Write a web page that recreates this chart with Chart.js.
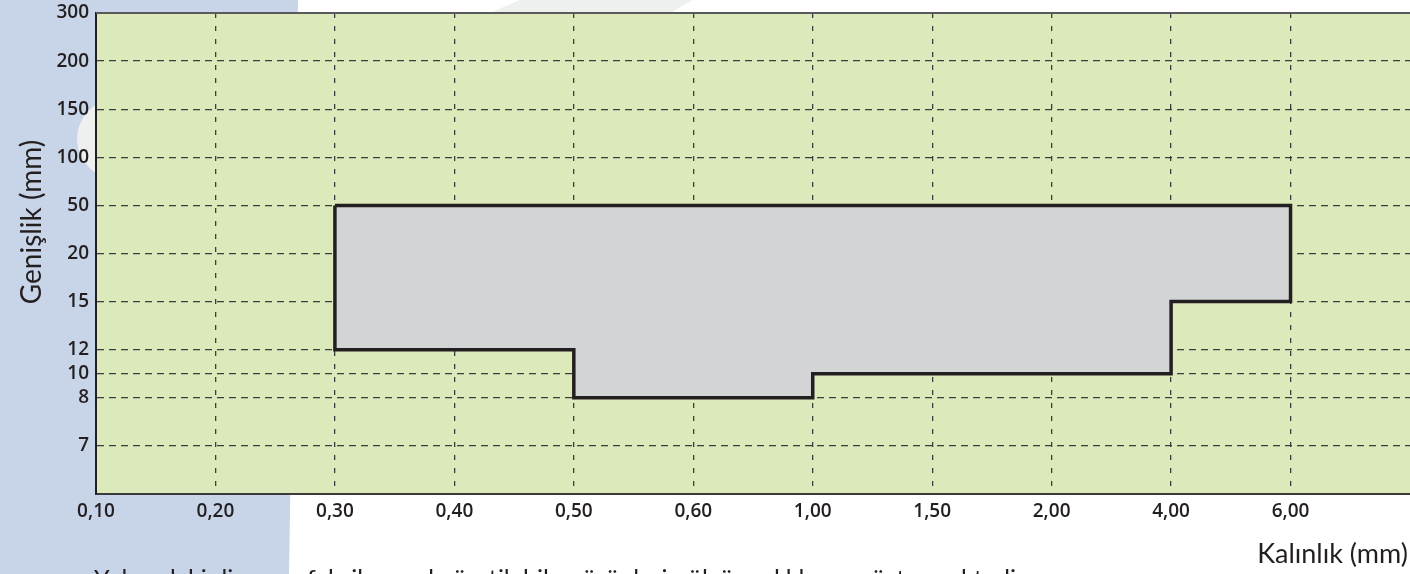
<!DOCTYPE html>
<html>
<head>
<meta charset="utf-8">
<script src="https://cdn.jsdelivr.net/npm/chart.js@4.4.0/dist/chart.umd.min.js"></script>
<style>
  html, body { margin: 0; padding: 0; background: #fff; overflow: hidden; }
  #wrap { position: relative; width: 1410px; height: 574px; }
</style>
</head>
<body>
<div id="wrap"><canvas id="chart" width="1410" height="574"></canvas></div>
<script>
// Kalınlık (mm) - x axis categories
const thicknessValues = [0.10, 0.20, 0.30, 0.40, 0.50, 0.60, 1.00, 1.50, 2.00, 4.00, 6.00];
// Genişlik (mm) - y axis tick labels, bottom to top
const widthTicks = [7, 8, 10, 12, 15, 20, 50, 100, 150, 200, 300];
// widths sitting on the evenly spaced rows of the y axis (others fall in between)
const widthRows = [7, 8, 12, 15, 20, 50, 100, 150, 200, 300];

// outline of the production range
const rangeThickness = [0.30, 6.00, 6.00, 4.00, 4.00, 1.00, 1.00, 0.50, 0.50, 0.30, 0.30];
const rangeWidth     = [50,   50,   15,   15,   10,   10,   8,    8,    12,   12,   50];

const xTitle = 'Kalınlık (mm)';
const yTitle = 'Genişlik (mm)';
const footNote = 'Yukarıdaki diagram fabrikamızda üretilebilen ürünlerin ölçü aralıklarını göstermektedir.';

const ink = '#231f20';

function toRow(v) {
  for (let i = 0; i < widthRows.length - 1; i++) {
    const a = widthRows[i], b = widthRows[i + 1];
    if (v >= a && v <= b) return i + 1 + (v - a) / (b - a);
  }
  return v < widthRows[0] ? 0 : widthRows.length;
}

function fmt(t) {
  return t.toFixed(2).replace('.', ',');
}

const points = rangeThickness.map((t, i) => ({
  x: thicknessValues.indexOf(t),
  y: toRow(rangeWidth[i])
}));

const backdrop = {
  id: 'backdrop',
  beforeDraw(chart) {
    const { ctx, chartArea: a, width, height } = chart;
    ctx.save();
    ctx.fillStyle = '#fff';
    ctx.fillRect(0, 0, width, height);
    // blue panel on the left
    ctx.fillStyle = '#c8d5e8';
    ctx.beginPath();
    ctx.moveTo(0, 0);
    ctx.lineTo(298, 0);
    ctx.lineTo(289, height);
    ctx.lineTo(0, height);
    ctx.closePath();
    ctx.fill();
    // pale swoosh behind the plot
    ctx.strokeStyle = '#eef0f0';
    ctx.lineWidth = 80;
    ctx.lineCap = 'round';
    ctx.beginPath();
    ctx.moveTo(117, 139);
    ctx.quadraticCurveTo(430, 125, 730, -70);
    ctx.stroke();
    // plot area
    ctx.fillStyle = '#dce9bb';
    ctx.fillRect(a.left, a.top, a.right - a.left, a.bottom - a.top);
    ctx.restore();
  },
  afterDraw(chart) {
    const { ctx, chartArea: a } = chart;
    ctx.save();
    ctx.strokeStyle = '#5a5a5a';
    ctx.lineWidth = 2;
    ctx.beginPath();
    ctx.moveTo(a.left, a.top);
    ctx.lineTo(a.right, a.top);
    ctx.stroke();

    ctx.fillStyle = ink;
    ctx.font = '27px Lato';
    ctx.textAlign = 'right';
    ctx.textBaseline = 'alphabetic';
    ctx.fillText(xTitle, 1408, 563);

    ctx.save();
    ctx.translate(32, 222);
    ctx.rotate(-Math.PI / 2);
    ctx.font = '28px Lato';
    ctx.textAlign = 'center';
    ctx.textBaseline = 'middle';
    ctx.fillText(yTitle, 0, 0);
    ctx.restore();

    ctx.font = '25px Lato';
    ctx.textAlign = 'left';
    ctx.fillText(footNote, 94, 588);
    ctx.restore();
  }
};

Chart.defaults.font.family = "'Open Sans', Lato, sans-serif";
Chart.defaults.color = ink;

new Chart(document.getElementById('chart').getContext('2d'), {
  type: 'scatter',
  data: {
    datasets: [{
      data: points,
      showLine: true,
      fill: 'shape',
      backgroundColor: '#d3d4d6',
      borderColor: ink,
      borderWidth: 3.5,
      borderJoinStyle: 'miter',
      pointRadius: 0,
      tension: 0
    }]
  },
  options: {
    responsive: false,
    animation: false,
    events: [],
    layout: { padding: { top: 13, left: 0, right: 0, bottom: 0 } },
    plugins: { legend: { display: false }, tooltip: { enabled: false } },
    scales: {
      x: {
        type: 'linear',
        min: 0,
        max: 11,
        z: 1,
        afterBuildTicks: s => { s.ticks = thicknessValues.map((_, i) => ({ value: i })); },
        afterFit: s => { s.height = 80; s.paddingLeft = 0; s.paddingRight = 0; },
        ticks: {
          autoSkip: false,
          maxRotation: 0,
          padding: 6,
          font: { size: 19, weight: '600' },
          color: ink,
          callback: (v, i) => fmt(thicknessValues[i])
        },
        grid: {
          drawTicks: false,
          lineWidth: 1.3,
          color: c => (c.index === 0 ? 'transparent' : '#3c3c3c')
        },
        border: { display: true, color: '#3a3a3a', width: 2, dash: [5, 8] }
      },
      y: {
        type: 'linear',
        min: 0,
        max: 10,
        z: 1,
        afterBuildTicks: s => { s.ticks = widthTicks.map(w => ({ value: toRow(w) })); },
        afterFit: s => { s.width = 96; s.paddingTop = 0; s.paddingBottom = 0; },
        ticks: {
          autoSkip: false,
          padding: 7,
          font: { size: 19, weight: '600' },
          color: ink,
          callback: (v, i) => String(widthTicks[i])
        },
        grid: {
          drawTicks: false,
          lineWidth: 1.3,
          color: '#3c3c3c'
        },
        border: { display: true, color: ink, width: 2, dash: [7, 5] }
      }
    }
  },
  plugins: [backdrop]
});
</script>
</body>
</html>
